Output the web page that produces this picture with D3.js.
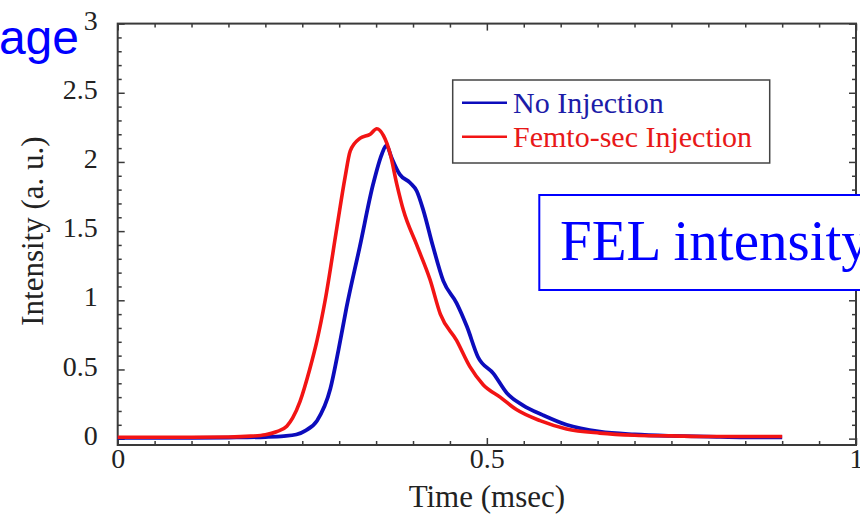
<!DOCTYPE html>
<html>
<head>
<meta charset="utf-8">
<script src="https://cdn.jsdelivr.net/npm/d3@7"></script>
<style>
  body { margin: 0; background: #fff; }
  svg { display: block; }
</style>
</head>
<body>
<svg id="chart" width="860" height="519"></svg>
<script>
// values
var noInjTime = [0, 0.05, 0.10, 0.15, 0.20, 0.225, 0.242, 0.255, 0.270, 0.288, 0.299, 0.310,
	0.328, 0.346, 0.358, 0.364, 0.371, 0.382, 0.396, 0.405, 0.414, 0.427, 0.441, 0.459, 0.473,
	0.488, 0.509, 0.527, 0.549, 0.576, 0.608, 0.653, 0.70, 0.75, 0.80, 0.85, 0.90];
var noInjValue = [0.005, 0.005, 0.006, 0.008, 0.012, 0.018, 0.03, 0.06, 0.13, 0.36, 0.64, 0.95,
	1.39, 1.84, 2.06, 2.12, 2.03, 1.91, 1.85, 1.79, 1.65, 1.39, 1.14, 0.98, 0.81,
	0.59, 0.47, 0.33, 0.24, 0.17, 0.10, 0.05, 0.03, 0.02, 0.015, 0.01, 0.01];

var femtoTime = [0, 0.05, 0.10, 0.15, 0.18, 0.20, 0.215, 0.229, 0.237, 0.247, 0.260, 0.270,
	0.281, 0.297, 0.308, 0.315, 0.328, 0.342, 0.351, 0.360, 0.369, 0.378, 0.387, 0.405, 0.423,
	0.437, 0.459, 0.477, 0.495, 0.518, 0.540, 0.572, 0.608, 0.653, 0.70, 0.75, 0.80, 0.85, 0.90];
var femtoValue = [0.01, 0.01, 0.01, 0.012, 0.018, 0.028, 0.05, 0.09, 0.15, 0.27, 0.50, 0.71,
	1.0, 1.53, 1.89, 2.08, 2.17, 2.20, 2.24, 2.19, 2.06, 1.84, 1.65, 1.40, 1.15,
	0.90, 0.71, 0.52, 0.39, 0.30, 0.21, 0.13, 0.07, 0.04, 0.025, 0.02, 0.015, 0.015, 0.015];

var xMajor = [0, 0.5, 1];
var yMajor = [0, 0.5, 1, 1.5, 2, 2.5, 3];
var yLabels = ["0", "0.5", "1", "1.5", "2", "2.5", "3"];
var xLabels = ["0", "0.5", "1"];
var legendNames = ["No Injection", "Femto-sec Injection"];

var margin = { top: 23.6, left: 117.7, right: 4, bottom: 74 },
	width = 860 - margin.left - margin.right,
	height = 519 - margin.top - margin.bottom;

var svg = d3.select("#chart");
var g = svg.append("g").attr("transform", "translate(" + margin.left + "," + margin.top + ")");

var x = d3.scaleLinear().domain([0, 1]).range([0, width]);
var y = d3.scaleLinear().domain([-0.046, 3]).range([height, 0]);

var serif = "'Liberation Serif', 'Times New Roman', serif";
var axisColor = "#3a3a3a";

var xMinor = d3.range(0, 1.0001, 0.05).filter(function (d) { return Math.abs(d * 2 - Math.round(d * 2)) > 1e-6; });
var yMinor = d3.range(0, 3.0001, 0.1).filter(function (d) { return Math.abs(d * 2 - Math.round(d * 2)) > 1e-6; });

function styleAxis(sel) {
	sel.select(".domain").remove();
	sel.selectAll("line").attr("stroke", axisColor).attr("stroke-width", 1.5);
	sel.selectAll("text").attr("fill", "#222").style("font-family", serif).style("font-size", "28px");
}

// bottom
g.append("g").attr("transform", "translate(0," + height + ")")
	.call(d3.axisBottom(x).tickValues(xMajor).tickSize(-7).tickPadding(3)
		.tickFormat(function (d, i) { return xLabels[i]; }))
	.call(styleAxis);
g.append("g").attr("transform", "translate(0," + height + ")")
	.call(d3.axisBottom(x).tickValues(xMinor).tickSize(-4).tickFormat(""))
	.call(styleAxis);
// top
g.append("g").call(d3.axisTop(x).tickValues(xMajor).tickSize(-7).tickFormat("")).call(styleAxis);
g.append("g").call(d3.axisTop(x).tickValues(xMinor).tickSize(-4).tickFormat("")).call(styleAxis);
// left
g.append("g")
	.call(d3.axisLeft(y).tickValues(yMajor).tickSize(-7).tickPadding(20)
		.tickFormat(function (d, i) { return yLabels[i]; }))
	.call(styleAxis)
	.selectAll("text").attr("dy", "0.2em");
g.append("g").call(d3.axisLeft(y).tickValues(yMinor).tickSize(-4).tickFormat("")).call(styleAxis);
// right
g.append("g").attr("transform", "translate(" + width + ",0)")
	.call(d3.axisRight(y).tickValues(yMajor).tickSize(-7).tickFormat("")).call(styleAxis);
g.append("g").attr("transform", "translate(" + width + ",0)")
	.call(d3.axisRight(y).tickValues(yMinor).tickSize(-4).tickFormat("")).call(styleAxis);

// frame
g.append("rect")
	.attr("x", 0).attr("y", y(3))
	.attr("width", width).attr("height", height - y(3))
	.attr("fill", "none").attr("stroke", axisColor).attr("stroke-width", 2);

// curves
var line = d3.line()
	.x(function (d) { return x(d[0]); })
	.y(function (d) { return y(d[1]); })
	.curve(d3.curveMonotoneX);

var blueData = d3.zip(noInjTime, noInjValue);
var redData = d3.zip(femtoTime, femtoValue);

g.append("path").datum(blueData).attr("d", line)
	.attr("fill", "none").attr("stroke", "#0c0cbc").attr("stroke-width", 3.8)
	.attr("stroke-linejoin", "round");
g.append("path").datum(redData).attr("d", line)
	.attr("fill", "none").attr("stroke", "#f21414").attr("stroke-width", 3.6)
	.attr("stroke-linejoin", "round");

// axis titles
svg.append("text")
	.attr("x", margin.left + x(0.5)).attr("y", 507)
	.attr("text-anchor", "middle")
	.style("font-family", serif).style("font-size", "31px").attr("fill", "#222")
	.text("Time (msec)");

svg.append("text")
	.attr("transform", "translate(43," + (margin.top + (y(3) + y(0)) / 2) + ") rotate(-90)")
	.attr("text-anchor", "middle")
	.style("font-family", serif).style("font-size", "31px").attr("fill", "#222")
	.text("Intensity (a. u.)");

// legend
var legend = svg.append("g");
legend.append("rect")
	.attr("x", 452.7).attr("y", 80).attr("width", 317).attr("height", 83)
	.attr("fill", "#fff").attr("stroke", "#444").attr("stroke-width", 1.5);
var legendColors = ["#0c0cbc", "#f21414"];
var textColors = ["#1c1ca8", "#e81818"];
legendNames.forEach(function (name, i) {
	var ly = 102.7 + i * 34;
	legend.append("line")
		.attr("x1", 462).attr("x2", 507).attr("y1", ly).attr("y2", ly)
		.attr("stroke", legendColors[i]).attr("stroke-width", 2.5);
	legend.append("text")
		.attr("x", 513).attr("y", ly + 10)
		.style("font-family", serif).style("font-size", "30px")
		.attr("fill", textColors[i])
		.text(name);
});

// FEL intensity callout box (runs off the right edge, as in the slide)
svg.append("rect")
	.attr("x", 539.3).attr("y", 195).attr("width", 340).attr("height", 95)
	.attr("fill", "#fff").attr("stroke", "#0000ff").attr("stroke-width", 2);
svg.append("text")
	.attr("x", 560).attr("y", 260)
	.style("font-family", serif).style("font-size", "57px")
	.attr("fill", "#0000ff")
	.text("FEL intensity");

// cut-off slide text at top-left
svg.append("text")
	.attr("x", 79).attr("y", 54)
	.attr("text-anchor", "end")
	.style("font-family", "'Liberation Sans', Arial, sans-serif").style("font-size", "48px")
	.attr("fill", "#0000ff")
	.text("age");
</script>
</body>
</html>
